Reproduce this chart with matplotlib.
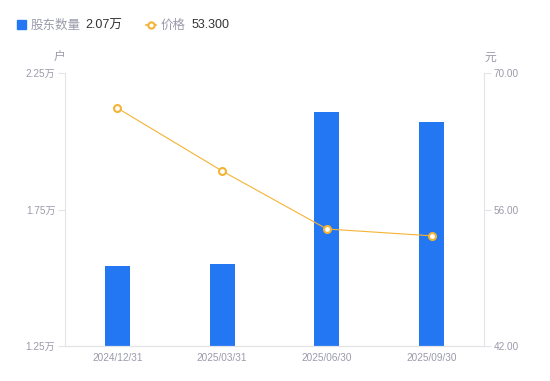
import numpy as np
import matplotlib
matplotlib.use("Agg")
from matplotlib import pyplot as plt

plt.rcParams['font.family'] = ['Liberation Sans', 'Noto Sans CJK SC', 'DejaVu Sans']

# 数据
dates = ['2024/12/31', '2025/03/31', '2025/06/30', '2025/09/30']
holders = [1.543, 1.55, 2.107, 2.07]   # 股东数量（万户）
prices = [66.4, 59.95, 54.0, 53.3]     # 价格（元）
left_ticks = [1.25, 1.75, 2.25]
right_ticks = [42.0, 56.0, 70.0]

blue = '#2477f2'
orange = '#f5b335'
gray = '#9a9aab'
axis_gray = '#e3e3e8'

fig = plt.figure(figsize=(5.5, 3.81), dpi=100)
ax = fig.add_axes([65/550, 1-346/381, 419/550, 273/381])
ax2 = ax.twinx()

x = np.arange(len(dates))
ax.bar(x, holders, width=0.24, color=blue, zorder=2)
ax.set_xlim(-0.5, len(dates)-0.5)
ax.set_ylim(1.25, 2.25)
ax.set_yticks(left_ticks)
ax.set_yticklabels([f'{v:.2f}万' for v in left_ticks])
ax.set_xticks(x)
ax.set_xticklabels(dates)

ax2.plot(x, prices, color=orange, lw=0.8, marker='o', ms=5,
         mfc='white', mec=orange, mew=1.5, zorder=3)
ax2.set_ylim(42, 70)
ax2.set_yticks(right_ticks)
ax2.set_yticklabels([f'{v:.2f}' for v in right_ticks])

for a in (ax, ax2):
    for s in a.spines.values():
        s.set_visible(False)
    a.spines['bottom'].set_visible(True)
    a.spines['bottom'].set_color(axis_gray)
ax.spines['left'].set_visible(True)
ax.spines['left'].set_color(axis_gray)
ax2.spines['right'].set_visible(True)
ax2.spines['right'].set_color(axis_gray)

ax.tick_params(axis='y', colors=axis_gray, labelcolor=gray, labelsize=7.2, length=5, pad=2)
ax.tick_params(axis='x', length=0, labelcolor=gray, labelsize=7.2, pad=5)
ax2.tick_params(axis='y', colors=axis_gray, labelcolor=gray, labelsize=7.2, length=5, pad=2)

# 单位
fig.text(59/550, 1-58/381, '户', color=gray, fontsize=8.5, ha='center', va='center')
fig.text(490/550, 1-58/381, '元', color=gray, fontsize=8.5, ha='center', va='center')

# 图例
ly = 1-25.5/381
fig.patches.append(plt.Rectangle((17/550, 1-29/381), 9/550, 9/381, transform=fig.transFigure,
                                 color=blue, figure=fig))
fig.text(31/550, ly, '股东数量', color=gray, fontsize=9, va='center')
fig.text(85/550, ly, '2.07万', color='#333333', fontsize=9, va='center')
fig.lines.append(plt.Line2D([146/550, 156/550], [1-24.5/381, 1-24.5/381], transform=fig.transFigure,
                            color=orange, lw=1.2, figure=fig))
fig.lines.append(plt.Line2D([151/550], [1-24.5/381], transform=fig.transFigure, color=orange,
                            marker='o', ms=4.5, mfc='white', mec=orange, mew=1.5, figure=fig))
fig.text(161/550, ly, '价格', color=gray, fontsize=9, va='center')
fig.text(192/550, ly, '53.300', color='#333333', fontsize=9, va='center')

fig.savefig('out.png', dpi=100)
